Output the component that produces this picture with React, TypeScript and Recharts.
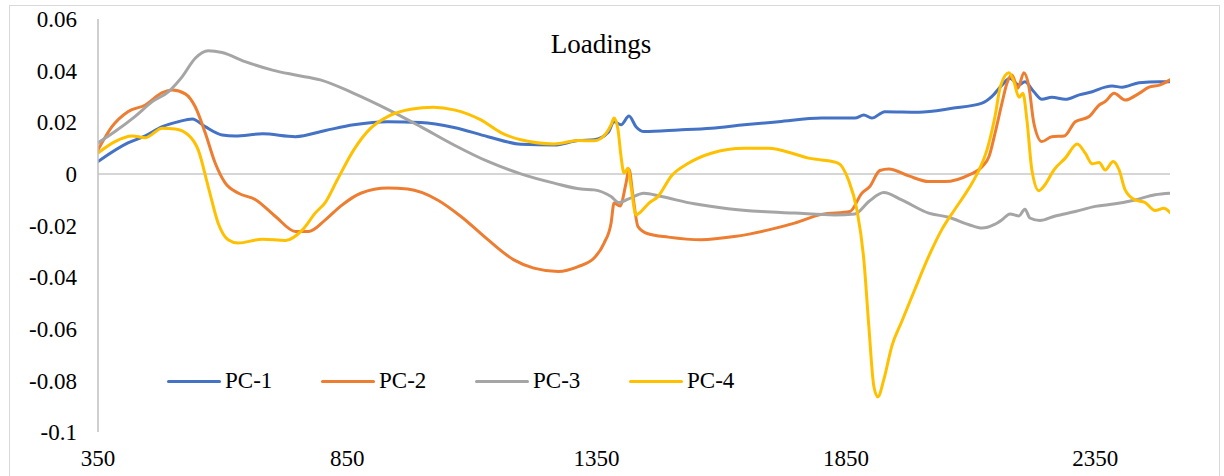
import React from 'react';
import { LineChart, Line, XAxis, YAxis, ReferenceLine } from 'recharts';

const xTicks = [350, 850, 1350, 1850, 2350];
const yTicks = [-0.1, -0.08, -0.06, -0.04, -0.02, 0, 0.02, 0.04, 0.06];

const pc1X = [350, 410, 445, 479, 511, 539, 565, 599, 625, 680, 746, 806, 863, 931, 997, 1064, 1132, 1198, 1265, 1313, 1345, 1373, 1385, 1399, 1415, 1429, 1445, 1514, 1580, 1646, 1715, 1801, 1868, 1886, 1902, 1928, 1996, 2063, 2123, 2143, 2163, 2179, 2197, 2209, 2227, 2243, 2263, 2290, 2318, 2344, 2370, 2384, 2404, 2438, 2479, 2500];
const pc1Y = [0.0048, 0.012, 0.0147, 0.0183, 0.0202, 0.0213, 0.0183, 0.0151, 0.0147, 0.0155, 0.0144, 0.0168, 0.019, 0.0202, 0.0199, 0.018, 0.0144, 0.0115, 0.0112, 0.0129, 0.0132, 0.016, 0.0202, 0.019, 0.0224, 0.0183, 0.0164, 0.017, 0.0177, 0.019, 0.0202, 0.0216, 0.0216, 0.0228, 0.0216, 0.0241, 0.0239, 0.0254, 0.0274, 0.030, 0.0344, 0.037, 0.0344, 0.0357, 0.0318, 0.0289, 0.0297, 0.0289, 0.0306, 0.0318, 0.0336, 0.034, 0.0336, 0.0353, 0.0357, 0.0357];

const pc2X = [350, 378, 410, 445, 479, 499, 525, 545, 565, 585, 605, 631, 666, 706, 746, 772, 806, 836, 877, 931, 971, 1031, 1078, 1132, 1184, 1224, 1273, 1313, 1345, 1365, 1379, 1385, 1397, 1409, 1415, 1423, 1433, 1453, 1494, 1560, 1626, 1695, 1747, 1801, 1858, 1882, 1898, 1918, 1936, 1976, 2016, 2048, 2097, 2123, 2137, 2149, 2163, 2173, 2183, 2195, 2207, 2217, 2227, 2243, 2263, 2288, 2310, 2338, 2358, 2370, 2388, 2410, 2438, 2458, 2479, 2500];
const pc2Y = [0.0093, 0.0183, 0.0241, 0.0267, 0.0315, 0.0325, 0.031, 0.026, 0.0159, 0.0042, -0.0035, -0.0074, -0.01, -0.0165, -0.0223, -0.0223, -0.0178, -0.0126, -0.0075, -0.0055, -0.0059, -0.0101, -0.0165, -0.0255, -0.0333, -0.0365, -0.0378, -0.0359, -0.0326, -0.0268, -0.0191, -0.0113, -0.0124, -0.0036, 0.0018, -0.0088, -0.0204, -0.0232, -0.0245, -0.0255, -0.0243, -0.0217, -0.0191, -0.0157, -0.0146, -0.0075, -0.0049, 0.0013, 0.0019, -0.0008, -0.003, -0.003, -0.0004, 0.0028, 0.0067, 0.0157, 0.0274, 0.0351, 0.0383, 0.0332, 0.0392, 0.0338, 0.0196, 0.0125, 0.0144, 0.0147, 0.0202, 0.0222, 0.0267, 0.028, 0.0312, 0.0286, 0.0312, 0.0336, 0.0344, 0.0364];

const pc3X = [350, 384, 424, 459, 491, 519, 545, 571, 599, 645, 700, 746, 796, 863, 931, 997, 1064, 1132, 1198, 1265, 1319, 1345, 1379, 1395, 1413, 1445, 1480, 1546, 1614, 1681, 1747, 1827, 1868, 1896, 1926, 1962, 2016, 2056, 2097, 2123, 2147, 2163, 2179, 2197, 2209, 2219, 2239, 2270, 2310, 2350, 2390, 2430, 2470, 2500];
const pc3Y = [0.012, 0.0164, 0.0222, 0.028, 0.0318, 0.0377, 0.0448, 0.0477, 0.047, 0.0435, 0.0402, 0.0383, 0.0364, 0.0312, 0.025, 0.0183, 0.0112, 0.0048, 0, -0.0036, -0.0059, -0.0062, -0.0088, -0.0111, -0.0098, -0.0075, -0.0088, -0.0116, -0.0135, -0.0146, -0.0152, -0.0159, -0.0155, -0.0107, -0.0072, -0.0101, -0.0152, -0.0168, -0.0197, -0.021, -0.0197, -0.0178, -0.0155, -0.0163, -0.0137, -0.0171, -0.0181, -0.0163, -0.0146, -0.0126, -0.0116, -0.0101, -0.0081, -0.0075];

const pc4X = [350, 384, 418, 445, 479, 505, 531, 551, 571, 591, 611, 631, 680, 726, 760, 786, 806, 830, 863, 897, 931, 977, 1023, 1064, 1118, 1158, 1198, 1265, 1313, 1345, 1369, 1379, 1385, 1393, 1399, 1405, 1413, 1419, 1429, 1439, 1455, 1473, 1500, 1534, 1580, 1646, 1695, 1747, 1775, 1801, 1835, 1855, 1872, 1886, 1896, 1906, 1914, 1926, 1942, 1962, 1988, 2016, 2042, 2068, 2097, 2117, 2133, 2149, 2160, 2177, 2187, 2197, 2205, 2213, 2223, 2237, 2249, 2267, 2290, 2314, 2330, 2344, 2358, 2370, 2386, 2398, 2410, 2430, 2450, 2470, 2488, 2500];
const pc4Y = [0.0081, 0.0125, 0.0147, 0.014, 0.0177, 0.0174, 0.0151, 0.0093, -0.0049, -0.0191, -0.0255, -0.0268, -0.0253, -0.0258, -0.0217, -0.0151, -0.011, -0.0023, 0.0093, 0.0177, 0.0222, 0.025, 0.0258, 0.0248, 0.0209, 0.016, 0.0132, 0.0116, 0.0129, 0.0128, 0.0157, 0.019, 0.0216, 0.017, 0.0067, 0.0003, 0.0022, -0.0049, -0.0159, -0.0146, -0.0113, -0.0088, -0.0008, 0.0041, 0.008, 0.0099, 0.0099, 0.0077, 0.0061, 0.0054, 0.0041, -0.0023, -0.0139, -0.0333, -0.0591, -0.0823, -0.0864, -0.0797, -0.0668, -0.0572, -0.0449, -0.032, -0.0217, -0.0139, -0.0055, 0.0015, 0.0093, 0.0222, 0.034, 0.0392, 0.0357, 0.0297, 0.0312, 0.0209, 0.0015, -0.0065, -0.0043, 0.0015, 0.0061, 0.0116, 0.008, 0.0039, 0.0044, 0.0015, 0.0048, 0.0015, -0.0062, -0.0101, -0.0111, -0.0142, -0.0133, -0.015];

const seriesNames = ['PC-1', 'PC-2', 'PC-3', 'PC-4'];
const seriesColors = ['#4472C4', '#ED7D31', '#A5A5A5', '#FFC000'];

const toRows = (xs: number[], ys: number[]) => xs.map((x, i) => ({ x, y: ys[i] }));
const seriesData = [toRows(pc1X, pc1Y), toRows(pc2X, pc2Y), toRows(pc3X, pc3Y), toRows(pc4X, pc4Y)];

const FONT = '"Liberation Serif", "Times New Roman", serif';

const fmtY = (v: number) => String(Number(v.toFixed(2)));

export default function App() {
  return (
    <div style={{ position: 'absolute', left: 0, top: 0, width: 1224, height: 476, overflow: 'hidden', background: '#fff' }}>
      <div style={{ position: 'absolute', left: 9, top: 5, width: 1209, height: 490, border: '1px solid #D9D9D9' }} />
      <div style={{ position: 'absolute', left: 0, top: 0 }}>
        <LineChart width={1224} height={476} margin={{ top: 19, right: 54, bottom: 14, left: 8 }}>
          <XAxis
            type="number"
            dataKey="x"
            domain={[350, 2500]}
            ticks={xTicks}
            allowDataOverflow
            axisLine={false}
            tickLine={false}
            tickSize={0}
            tickMargin={18}
            height={30}
            tick={{ fontFamily: FONT, fontSize: 23, fill: '#000' }}
          />
          <YAxis
            type="number"
            domain={[-0.1, 0.06]}
            ticks={yTicks}
            tickFormatter={fmtY}
            width={90}
            axisLine={{ stroke: '#BFBFBF', strokeWidth: 1.5 }}
            tickLine={false}
            tickSize={0}
            tickMargin={21}
            tick={{ fontFamily: FONT, fontSize: 23, fill: '#000' }}
          />
          <ReferenceLine y={0} stroke="#C8C8C8" strokeWidth={1.5} />
          {seriesData.map((d, i) => (
            <Line
              key={seriesNames[i]}
              data={d}
              dataKey="y"
              name={seriesNames[i]}
              type="monotone"
              stroke={seriesColors[i]}
              strokeWidth={3}
              dot={false}
              activeDot={false}
              isAnimationActive={false}
              strokeLinecap="round"
              strokeLinejoin="round"
            />
          ))}
          <text x={601} y={53} textAnchor="middle" fontFamily={FONT} fontSize={27} fill="#000">
            Loadings
          </text>
        </LineChart>
      </div>
      <div style={{ position: 'absolute', left: 167, top: 366, display: 'flex', fontFamily: FONT, fontSize: 23, color: '#000', lineHeight: '30px' }}>
        {seriesNames.map((n, i) => (
          <div key={n} style={{ display: 'flex', alignItems: 'center', width: 154 }}>
            <div style={{ width: 54, height: 3, background: seriesColors[i], borderRadius: 2, marginRight: 4 }} />
            <span>{n}</span>
          </div>
        ))}
      </div>
    </div>
  );
}
